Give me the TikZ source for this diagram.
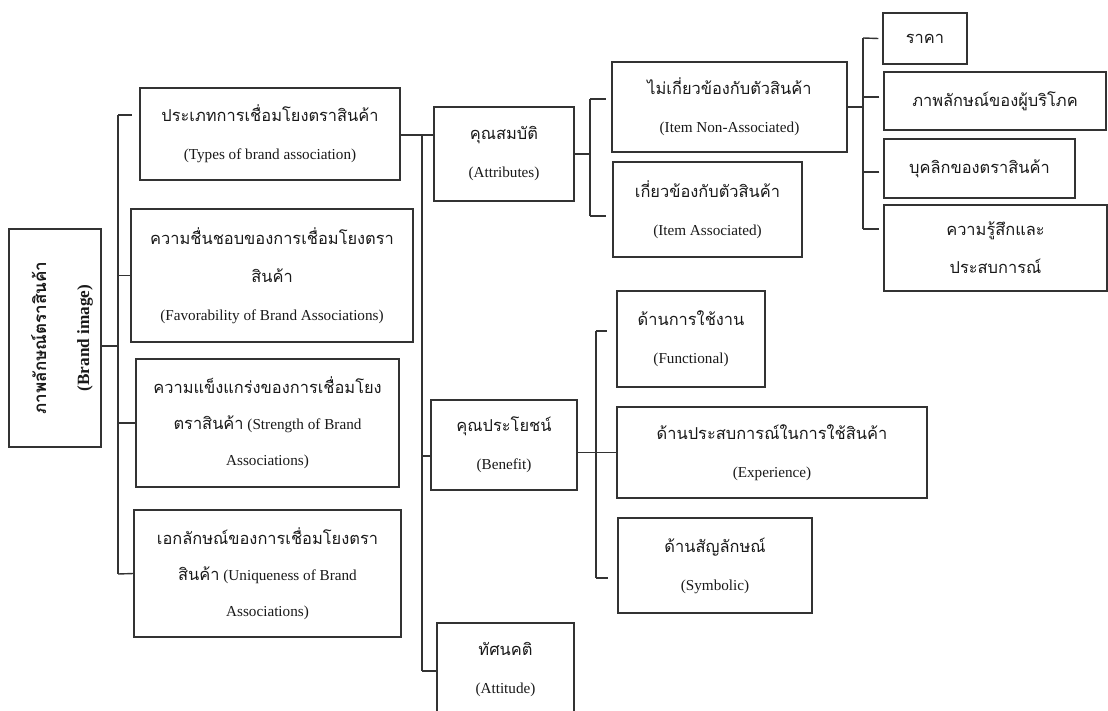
\documentclass[tikz,border=0pt]{standalone}
\usepackage{fontspec}
\setmainfont{Liberation Serif}
\newfontfamily\thaifont[Script=Thai,Scale=1.08]{Loma}
\usetikzlibrary{calc}
\newcommand\thtxt[1]{{\thaifont #1}}
\colorlet{linec}{black!80}

\tikzset{
  bx/.style 2 args={draw=linec, line width=0.7pt, inner sep=0pt, align=center,
    minimum width=#1*0.5pt, minimum height=#2*0.5pt,
    font=\fontsize{7.6}{19}\selectfont, text=black!90},
  ln/.style={draw=linec, line width=0.7pt},
}

\begin{document}
\begin{tikzpicture}[x=0.5pt,y=-0.5pt]
\useasboundingbox (0,0) rectangle (1108,711);

% root box, its label is set sideways on its own
\node[bx={92}{218}] (brand) at (55,338) {};
\node[rotate=90, align=center, inner sep=0pt, text=black!90,
  font=\fontsize{8.6}{21.5}\selectfont\bfseries] (brandlbl) at (62,338)
  {{\fontsize{7.9}{21.5}\selectfont\thtxt{ภาพลักษณ์ตราสินค้า}}\\(Brand image)};

\node[bx={260}{92}] (types) at (270,134)
  {\thtxt{ประเภทการเชื่อมโยงตราสินค้า}\\(Types of brand association)};
\node[bx={282}{133}] (favor) at (272,275.5)
  {\thtxt{ความชื่นชอบของการเชื่อมโยงตรา}\\\thtxt{สินค้า}\\(Favorability of Brand Associations)};
\node[bx={263}{128}, font=\fontsize{7.6}{18}\selectfont] (strength) at (267.5,423)
  {\thtxt{ความแข็งแกร่งของการเชื่อมโยง}\\\thtxt{ตราสินค้า} (Strength of Brand\\Associations)};
\node[bx={267}{127}, font=\fontsize{7.6}{18}\selectfont] (unique) at (267.5,573.5)
  {\thtxt{เอกลักษณ์ของการเชื่อมโยงตรา}\\\thtxt{สินค้า} (Uniqueness of Brand\\Associations)};

\node[bx={140}{94}] (attr) at (504,154) {\thtxt{คุณสมบัติ}\\(Attributes)};
\node[bx={146}{90}] (bene) at (504,445) {\thtxt{คุณประโยชน์}\\(Benefit)};
\node[bx={137}{94}] (atti) at (505.5,670) {\thtxt{ทัศนคติ}\\(Attitude)};

\node[bx={235}{90}] (nonas) at (729.5,107) {\thtxt{ไม่เกี่ยวข้องกับตัวสินค้า}\\(Item Non-Associated)};
\node[bx={189}{95}] (assoc) at (707.5,209.5) {\thtxt{เกี่ยวข้องกับตัวสินค้า}\\(Item Associated)};

\node[bx={148}{96}] (func) at (691,339) {\thtxt{ด้านการใช้งาน}\\(Functional)};
\node[bx={310}{91}] (expe) at (772,452.5) {\thtxt{ด้านประสบการณ์ในการใช้สินค้า}\\(Experience)};
\node[bx={194}{95}] (symb) at (715,565.5) {\thtxt{ด้านสัญลักษณ์}\\(Symbolic)};

\node[bx={84}{51}] (price) at (925,38.5) {\thtxt{ราคา}};
\node[bx={222}{58}] (cons) at (995,101) {\thtxt{ภาพลักษณ์ของผู้บริโภค}};
\node[bx={191}{59}] (pers) at (979.5,168.5) {\thtxt{บุคลิกของตราสินค้า}};
\node[bx={223}{86}] (feel) at (995.5,248) {\thtxt{ความรู้สึกและ}\\\thtxt{ประสบการณ์}};

% brackets
\coordinate (jbT) at (118,115);
\coordinate (jbB) at (118,574);
\draw[ln] (jbT) -- (jbB);
\draw[ln] ($(brand.east)+(0,8)$) -- ++(17,0);
\draw[ln] (jbT) -- ($(types.west)+(-7,-19)$);
\draw[ln] (jbT |- favor.west) -- (favor.west);
\draw[ln] (jbT |- strength.west) -- (strength.west);
\draw[ln] (jbB) -- (unique.west);

\coordinate (jaT) at (422,135);
\coordinate (jaB) at (422,671);
\draw[ln] (types.east |- jaT) -- (attr.west |- jaT);
\draw[ln] (jaT) -- (jaB);
\draw[ln] ($(bene.west)+(0,11)$) -- ++(-9,0);
\draw[ln] (jaB) -- (atti.west |- jaB);

\coordinate (jcT) at (590,99);
\coordinate (jcB) at (590,216);
\draw[ln] (attr.east) -- (jcT |- attr.east);
\draw[ln] (jcT) -- (jcB);
\draw[ln] (jcT) -- ($(nonas.west)+(-5,-8)$);
\draw[ln] (jcB) -- ($(assoc.west)+(-6,6.5)$);

\coordinate (jdT) at (863,38);
\coordinate (jdB) at (863,229);
\draw[ln] (nonas.east) -- (jdT |- nonas.east);
\draw[ln] (jdT) -- (jdB);
\draw[ln] (jdT) -- ($(price.west)+(-4,0)$);
\draw[ln] ($(cons.west)+(-4,-4)$) -- ++(-16,0);
\draw[ln] ($(pers.west)+(-4,3.5)$) -- ++(-16,0);
\draw[ln] (jdB) -- ($(feel.west)+(-4,-19)$);

\coordinate (jeT) at (596,331);
\coordinate (jeB) at (596,578);
\draw[ln] (bene.east |- expe.west) -- (expe.west);
\draw[ln] (jeT) -- (jeB);
\draw[ln] (jeT) -- ($(func.west)+(-9,-8)$);
\draw[ln] (jeB) -- ($(symb.west)+(-9,12.5)$);

\end{tikzpicture}
\end{document}
